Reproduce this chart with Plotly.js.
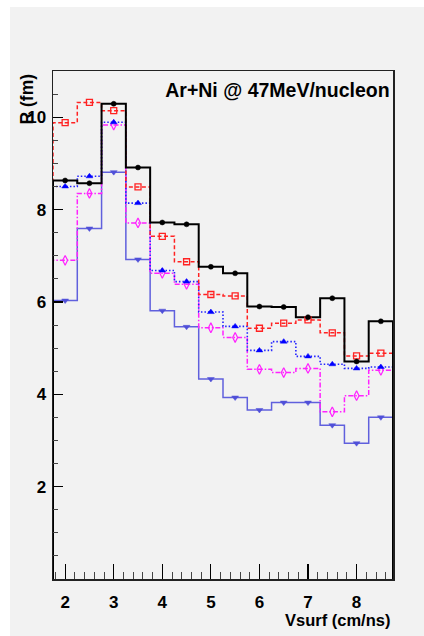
<!DOCTYPE html>
<html>
<head>
<meta charset="utf-8">
<script src="https://cdn.plot.ly/plotly-3.0.1.min.js"></script>
<style>html,body{margin:0;padding:0;background:#fff;}#chart{width:424px;height:636px;}</style>
</head>
<body>
<div id="chart"></div>
<script>
// Bin centres (Vsurf, cm/ns) and bin width
const binCenters = [2, 2.5, 3, 3.5, 4, 4.5, 5, 5.5, 6, 6.5, 7, 7.5, 8, 8.5];
const binWidth = 0.5;

// R (fm) values per series
const blackVals   = [8.63, 8.57, 10.29, 8.91, 7.72, 7.68, 6.76, 6.62, 5.90, 5.89, 5.67, 6.08, 4.71, 5.58];
const redVals     = [9.88, 10.32, 10.14, 8.49, 7.42, 6.87, 6.16, 6.13, 5.43, 5.54, 5.61, 5.33, 4.83, 4.89];
const blueVals    = [8.50, 8.72, 9.89, 8.14, 6.68, 6.44, 5.78, 5.47, 4.95, 5.14, 4.82, 4.65, 4.56, 4.59];
const magentaVals = [6.90, 8.35, 9.83, 7.71, 6.62, 6.38, 5.44, 5.23, 4.54, 4.47, 4.56, 3.62, 3.97, 4.52];
const lightVals   = [6.03, 7.59, 8.81, 6.92, 5.81, 5.46, 4.33, 3.93, 3.66, 3.82, 3.82, 3.33, 2.94, 3.50];

const xTickVals = [2, 3, 4, 5, 6, 7, 8];
const yTickVals = [2, 4, 6, 8, 10];

const titleText = 'Ar+Ni @ 47MeV/nucleon';
const xTitle = 'Vsurf (cm/ns)';
const yTitle = 'R (fm)';

const FONT = 'Liberation Sans, Arial, Helvetica, sans-serif';

function stepTrace(vals, color, width, dash) {
  const lo = binCenters[0] - binWidth / 2;
  const hi = binCenters[binCenters.length - 1] + binWidth / 2;
  const xs = [lo, lo];
  const ys = [0, vals[0]];
  for (let i = 1; i < vals.length; i++) {
    xs.push(binCenters[i] - binWidth / 2);
    ys.push(vals[i]);
  }
  xs.push(hi); ys.push(0);
  return {x: xs, y: ys, type: 'scatter', mode: 'lines',
    line: {shape: 'hv', color: color, width: width, dash: dash},
    hoverinfo: 'skip', showlegend: false};
}
function markerTrace(vals, color, symbol, size, lw) {
  return {x: binCenters, y: vals, type: 'scatter', mode: 'markers',
    marker: {symbol: symbol, color: color, size: size, line: {color: color, width: lw}},
    showlegend: false};
}

const traces = [
  stepTrace(lightVals, '#6060dd', 1.5, 'solid'),
  stepTrace(magentaVals, '#ff22ff', 1.5, '5px,2px,1.5px,2px'),
  stepTrace(blueVals, '#2222ff', 1.6, '1.5px,2px'),
  stepTrace(redVals, '#ff2222', 1.5, '4px,2.5px'),
  stepTrace(blackVals, '#000000', 2, 'solid'),
  markerTrace(lightVals, '#5050d8', 'triangle-down', 6, 0.5),
  markerTrace(magentaVals, '#ff22ff', 'diamond-tall-open', 7, 1.2),
  markerTrace(blueVals, '#0000ff', 'triangle-up', 6, 0.5),
  markerTrace(redVals, '#ff2222', 'square-open', 6, 1.3),
  markerTrace(blackVals, '#000000', 'circle', 5, 0.5)
];

const layout = {
  width: 424, height: 636,
  margin: {l: 53, r: 31, t: 71, b: 57, pad: 0},
  paper_bgcolor: '#ffffff',
  plot_bgcolor: '#f2f2f2',
  font: {family: FONT, color: '#000'},
  title: {text: titleText, font: {family: FONT, size: 19.5, weight: 'bold', color: '#000'},
    xref: 'paper', yref: 'paper', x: 0.99, xanchor: 'right', y: 0.963, yanchor: 'middle'},
  xaxis: {
    range: [1.75, 8.75], tickmode: 'array', tickvals: xTickVals,
    ticks: 'inside', ticklen: 15, tickwidth: 1.2, tickcolor: '#000',
    minor: {tickmode: 'linear', tick0: 0, dtick: 0.2, ticks: 'inside', ticklen: 7, tickwidth: 1, tickcolor: '#444', showgrid: false},
    showgrid: false, zeroline: false,
    showline: true, mirror: true, linecolor: '#222', linewidth: 1.5,
    tickfont: {family: FONT, size: 17, weight: 'bold', color: '#000'},
    ticklabelstandoff: 7
  },
  yaxis: {
    range: [0, 11], tickmode: 'array', tickvals: yTickVals,
    ticks: 'inside', ticklen: 10, tickwidth: 1.2, tickcolor: '#000',
    minor: {tickmode: 'linear', tick0: 0, dtick: 0.5, ticks: 'inside', ticklen: 5, tickwidth: 1, tickcolor: '#444', showgrid: false},
    showgrid: false, zeroline: false,
    showline: true, mirror: true, linecolor: '#222', linewidth: 1.5,
    tickfont: {family: FONT, size: 17, weight: 'bold', color: '#000'},
    ticklabelstandoff: 2
  },
  shapes: [{type: 'rect', xref: 'paper', yref: 'paper', layer: 'below',
    x0: -0.1265, x1: 1.1, y0: -0.115, y1: 1.126,
    fillcolor: '#f2f2f2', line: {width: 0}}],
  annotations: [
    {text: xTitle, xref: 'paper', yref: 'paper', x: 0.997, xanchor: 'right', y: -0.081, yanchor: 'middle',
      showarrow: false, font: {family: FONT, size: 16.5, weight: 'bold', color: '#000'}},
    {text: yTitle, xref: 'paper', yref: 'paper', x: -0.0765, xanchor: 'center', y: 1.0, yanchor: 'top',
      textangle: -90, showarrow: false, font: {family: FONT, size: 17.5, weight: 'bold', color: '#000'}}
  ]
};

Plotly.newPlot('chart', traces, layout, {staticPlot: true, displayModeBar: false});
</script>
</body>
</html>
